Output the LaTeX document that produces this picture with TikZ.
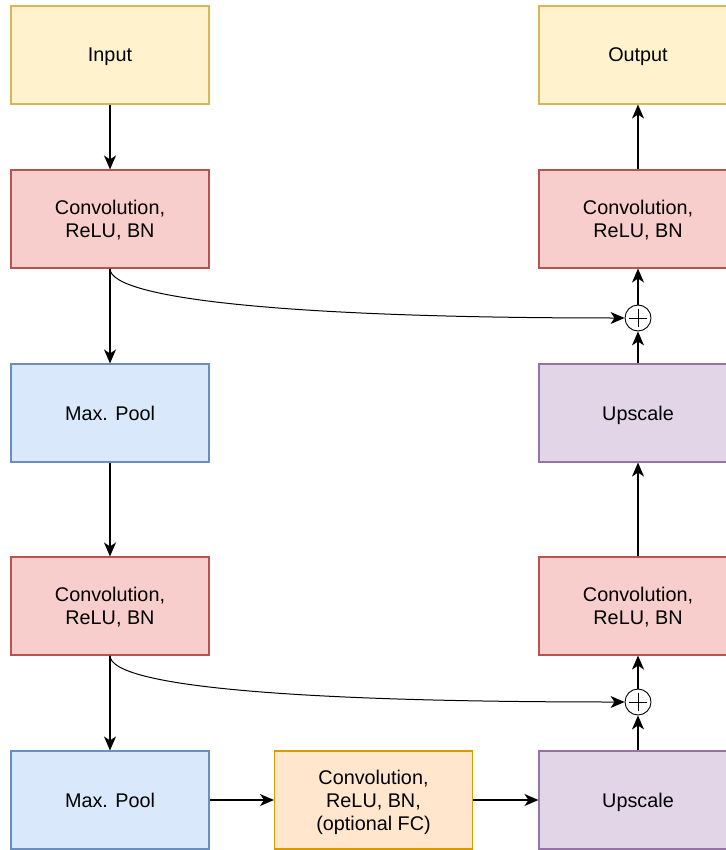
\documentclass[tikz,border=0pt]{standalone}
\usepackage{fontspec}
\setmainfont{Liberation Sans}
\usetikzlibrary{positioning,arrows.meta}
\definecolor{ioFill}{HTML}{FFF2CC}
\definecolor{ioDraw}{HTML}{D6B656}
\definecolor{convFill}{HTML}{F8CECC}
\definecolor{convDraw}{HTML}{B85450}
\definecolor{poolFill}{HTML}{DAE8FC}
\definecolor{poolDraw}{HTML}{6C8EBF}
\definecolor{upFill}{HTML}{E1D5E7}
\definecolor{upDraw}{HTML}{9673A6}
\definecolor{midFill}{HTML}{FFE6CC}
\definecolor{midDraw}{HTML}{D79B00}
\tikzstyle{block}=[draw,rectangle,minimum width=198pt,minimum height=98pt,inner sep=0pt,align=center,text depth=0pt,line width=1.1pt,font=\fontsize{19.8}{23}\selectfont]
\tikzstyle{ioNode}=[block,fill=ioFill,draw=ioDraw]
\tikzstyle{convNode}=[block,fill=convFill,draw=convDraw]
\tikzstyle{poolNode}=[block,fill=poolFill,draw=poolDraw]
\tikzstyle{upNode}=[block,fill=upFill,draw=upDraw]
\tikzstyle{midNode}=[block,fill=midFill,draw=midDraw]
\tikzstyle{plusNode}=[draw,circle,minimum size=26pt,inner sep=0pt,line width=0.9pt,path picture={\draw[line width=0.9pt] (path picture bounding box.center) ++(-9pt,0) -- ++(18pt,0) (path picture bounding box.center) ++(0,-9pt) -- ++(0,18pt);}]
\tikzstyle{dataFlow}=[-{Stealth[length=14pt,width=12pt,inset=4pt]}, line width=1.3pt]
\tikzstyle{skipFlow}=[-{Stealth[length=14pt,width=12pt,inset=4pt]}, line width=1pt]

\begin{document}
\begin{tikzpicture}[x=1pt,y=-1pt]
	\useasboundingbox (0,0) rectangle (725,850);

	\node[ioNode] (in) at (110,55) {Input};
	\node[convNode] (c1) at (110,219) {Convolution,\\ReLU, BN};
	\node[poolNode] (p1) at (110,413) {Max. Pool};
	\node[convNode] (c2) at (110,606) {Convolution,\\ReLU, BN};
	\node[poolNode] (p2) at (110,800) {Max. Pool};

	\node[midNode] (mid) at (373.5,800) {Convolution,\\ReLU, BN,\\(optional FC)};

	\node[ioNode] (out) at (638,55) {Output};
	\node[convNode] (c3) at (638,219) {Convolution,\\ReLU, BN};
	\node[upNode] (u1) at (638,413) {Upscale};
	\node[convNode] (c4) at (638,606) {Convolution,\\ReLU, BN};
	\node[upNode] (u2) at (638,800) {Upscale};

	\node[plusNode] (s1) at (638,318) {};
	\node[plusNode] (s2) at (638,702) {};

	\draw[dataFlow] (in) -- (c1);
	\draw[dataFlow] (c1) -- (p1);
	\draw[dataFlow] (p1) -- (c2);
	\draw[dataFlow] (c2) -- (p2);
	\draw[dataFlow] (p2) -- (mid);
	\draw[dataFlow] (mid) -- (u2);
	\draw[dataFlow] (u2) -- (s2);
	\draw[dataFlow] (s2) -- (c4);
	\draw[dataFlow] (c4) -- (u1);
	\draw[dataFlow] (u1) -- (s1);
	\draw[dataFlow] (s1) -- (c3);
	\draw[dataFlow] (c3) -- (out);

	\draw[skipFlow] (c1.south) .. controls (110,300) and (300,318) .. (s1.west);
	\draw[skipFlow] (c2.south) .. controls (110,687) and (300,702) .. (s2.west);
\end{tikzpicture}
\end{document}
